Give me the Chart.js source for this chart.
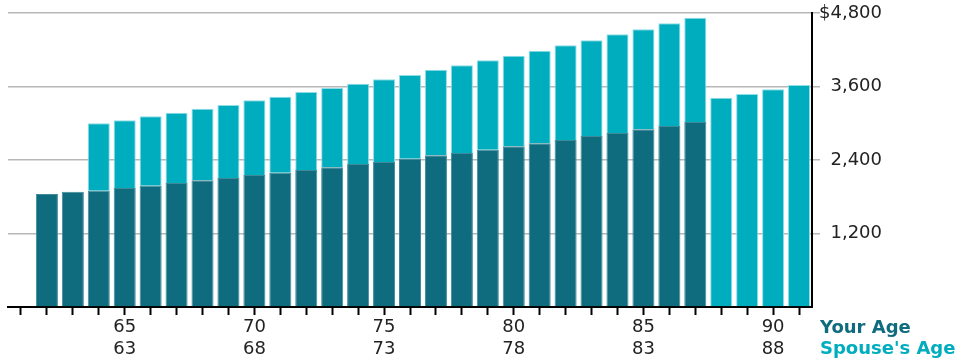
<!DOCTYPE html>
<html>
<head>
<meta charset="utf-8">
<title>Monthly Benefit by Age</title>
<script src="https://cdn.jsdelivr.net/npm/chart.js@4/dist/chart.umd.min.js"></script>
<style>
    html, body { margin: 0; padding: 0; background: #fff; }
    #wrap { width: 960px; height: 362px; }
</style>
</head>
<body>
<div id="wrap"><canvas id="benefitChart"></canvas></div>
<script>
// ages along the axis (61 is an empty slot at the left end)
const yourAges = [61, 62, 63, 64, 65, 66, 67, 68, 69, 70, 71, 72, 73, 74, 75, 76,
    77, 78, 79, 80, 81, 82, 83, 84, 85, 86, 87, 88, 89, 90, 91];
const spouseAges = yourAges.map(a => a - 2);

// your benefit (bottom part of each bar)
const yourBenefit = [null, 1845, 1883, 1899, 1943, 1981, 2024, 2068, 2106, 2155, 2193,
    2237, 2280, 2335, 2367, 2422, 2476, 2514, 2569, 2623, 2672, 2727, 2792, 2841,
    2901, 2955, 3020, null, null, null, null];

// spouse's benefit (stacked on top), survivor benefit after 87
const spouseBenefit = [null, null, null, 1100, 1105, 1132, 1149, 1170, 1192, 1219,
    1241, 1273, 1296, 1311, 1350, 1366, 1399, 1432, 1458, 1480, 1513, 1545, 1562,
    1611, 1632, 1677, 1704, 3418, 3478, 3554, 3624];

const yTicks = [1200, 2400, 3600, 4800];
const labelAges = [65, 70, 75, 80, 85, 90];

const darkTeal = '#0f6b7e';
const lightTeal = '#00adbe';
const font = "'DejaVu Sans', Verdana, sans-serif";

// "Your Age" / "Spouse's Age" captions next to the age rows
const ageCaptions = {
    id: 'ageCaptions',
    afterDraw(chart) {
        const ctx = chart.ctx;
        const x = chart.chartArea.right + 8;
        const top = chart.chartArea.bottom;
        ctx.save();
        ctx.font = 'bold 18px ' + font;
        ctx.textAlign = 'left';
        ctx.textBaseline = 'middle';
        ctx.fillStyle = darkTeal;
        ctx.fillText('Your Age', x, top + 21);
        ctx.fillStyle = lightTeal;
        ctx.fillText("Spouse's Age", x, top + 42);
        ctx.restore();
    }
};

const ctx = document.getElementById('benefitChart');

const chart = new Chart(ctx, {
    type: 'bar',
    data: {
        labels: yourAges,
        datasets: [{
            label: 'Your Benefit',
            data: yourBenefit,
            backgroundColor: darkTeal,
            borderColor: '#3f8a99',
            borderWidth: 1,
        }, {
            label: "Spouse's Benefit",
            data: spouseBenefit,
            backgroundColor: lightTeal,
            borderColor: '#8fdde5',
            borderWidth: 1,
        }],
    },
    options: {
        responsive: true,
        maintainAspectRatio: false,
        animation: false,
        layout: { padding: { left: 8, top: 13, right: 78, bottom: 0 } },
        categoryPercentage: 1,
        barPercentage: 0.85,
        plugins: {
            legend: { display: false },
            tooltip: { enabled: false },
        },
        scales: {
            x: {
                stacked: true,
                grid: {
                    offset: false,
                    drawOnChartArea: false,
                    tickLength: 8,
                    tickColor: '#000',
                    tickWidth: 2,
                },
                border: { color: '#000', width: 2 },
                ticks: {
                    autoSkip: false,
                    maxRotation: 0,
                    padding: 2,
                    color: '#222',
                    font: { family: font, size: 18, lineHeight: 1.2 },
                    callback: (value, index) => {
                        const age = yourAges[index];
                        return labelAges.includes(age) ? [String(age), String(spouseAges[index])] : '';
                    },
                },
                afterFit: scale => { scale.height = 55; },
            },
            y: {
                stacked: true,
                position: 'right',
                min: 0,
                max: 4800,
                afterBuildTicks: scale => {
                    scale.ticks = [0].concat(yTicks).map(v => ({ value: v }));
                },
                grid: {
                    color: ctx => ctx.tick && ctx.tick.value === 0 ? 'rgba(0,0,0,0)' : '#b7b7b7',
                    lineWidth: 1.5,
                    tickLength: 8,
                },
                border: { color: '#000', width: 2 },
                ticks: {
                    padding: 0,
                    crossAlign: 'far',
                    color: '#222',
                    font: { family: font, size: 18 },
                    callback: value => {
                        if (value === 0) return '';
                        const s = value.toLocaleString('en-US');
                        return value === 4800 ? '$' + s : s;
                    },
                },
                afterFit: scale => { scale.width = 70; },
            },
        },
    },
    plugins: [ageCaptions],
});
</script>
</body>
</html>
